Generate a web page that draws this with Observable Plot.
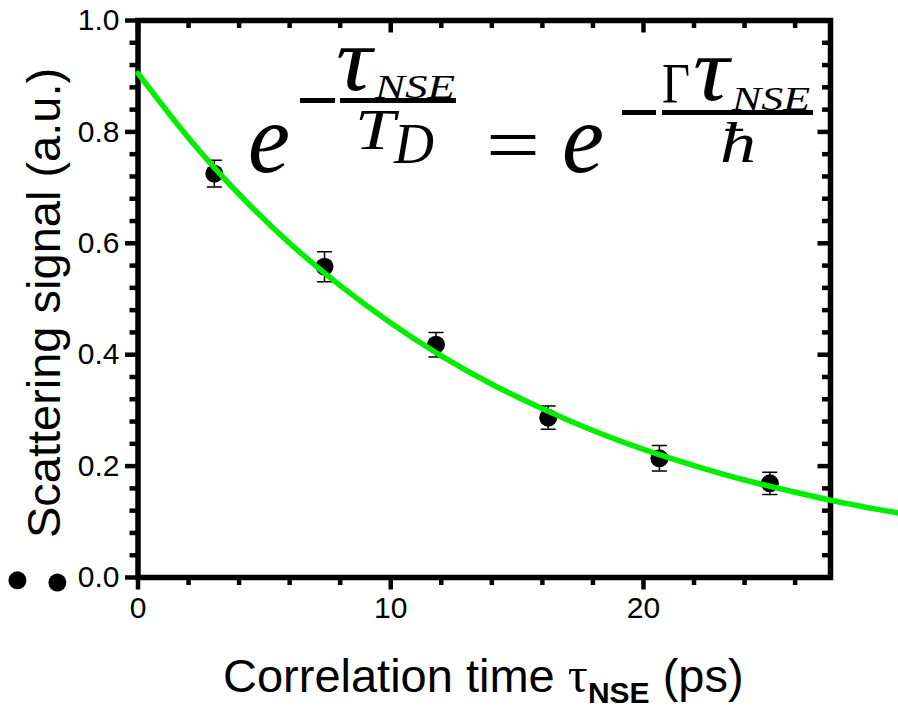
<!DOCTYPE html>
<html><head><meta charset="utf-8">
<script src="https://cdn.jsdelivr.net/npm/d3@7"></script>
<script src="https://cdn.jsdelivr.net/npm/@observablehq/plot@0.6"></script>
<style>body{margin:0;background:#fff}</style>
</head><body><div id="chart"></div>
<script>
// ---- data ----
const tauNSE    = [3.02, 7.38, 11.79, 16.23, 20.63, 25.0];
const signal    = [0.725, 0.558, 0.418, 0.287, 0.214, 0.169];
const signalErr = [0.024, 0.027, 0.022, 0.021, 0.023, 0.020];
const fitTau    = [0, 2, 4, 6, 8, 10, 12, 14, 16, 18, 20, 22, 24, 26, 28, 30.2];
const fitSignal = [0.905, 0.789, 0.688, 0.600, 0.524, 0.457, 0.398, 0.347, 0.303, 0.264, 0.230, 0.201, 0.175, 0.153, 0.133, 0.115];
const strayTau    = [-4.77, -3.19];
const straySignal = [-0.005, -0.009];
const xMajorTicks = [0, 10, 20];
const xMinorTicks = [2, 4, 6, 8, 12, 14, 16, 18, 22, 24, 26];
const yMajorTicks = [0, 0.2, 0.4, 0.6, 0.8, 1.0];
const yMinorTicks = [0.04, 0.08, 0.12, 0.16, 0.24, 0.28, 0.32, 0.36, 0.44, 0.48, 0.52, 0.56, 0.64, 0.68, 0.72, 0.76, 0.84, 0.88, 0.92, 0.96];
const yTitle = "Scattering signal (a.u.)";
const xTitleParts = ["Correlation time ", "τ", "NSE", " (ps)"];

// ---- build tables ----
const points = tauNSE.map((t, i) => ({tau: t, s: signal[i], lo: signal[i] - signalErr[i], hi: signal[i] + signalErr[i]}));
const fit = fitTau.map((t, i) => ({tau: t, s: fitSignal[i]}));
const stray = strayTau.map((t, i) => ({tau: t, s: straySignal[i]}));

const W = 898, H = 708, mL = 137.5, mR = 68, mT = 20, mB = 131;
const innerW = W - mL - mR, innerH = H - mT - mB;
const capShape = {draw(ctx, l) { ctx.moveTo(-l / 2, 0); ctx.lineTo(l / 2, 0); }};
const tickW = 4.5, majLen = 12.5, minLen = 8, labelSize = 30;

const plot = Plot.plot({
  width: W, height: H,
  marginLeft: mL, marginRight: mR, marginTop: mT, marginBottom: mB,
  x: {domain: [0, 27.4]},
  y: {domain: [0, 1]},
  style: {fontFamily: "'Liberation Sans', Arial, sans-serif", fontSize: "30px", color: "#000", background: "#fff", overflow: "visible"},
  marks: [
    // bottom axis (outward)
    Plot.axisX(xMinorTicks, {tickSize: minLen, strokeWidth: tickW, text: null, label: null}),
    Plot.axisX(xMajorTicks, {tickSize: majLen, strokeWidth: tickW, tickPadding: 7, fontSize: labelSize, tickFormat: d => String(d), label: null}),
    // left axis (outward)
    Plot.axisY(yMinorTicks, {tickSize: minLen, strokeWidth: tickW, text: null, label: null}),
    Plot.axisY(yMajorTicks, {tickSize: majLen, strokeWidth: tickW, tickPadding: 6, fontSize: labelSize, tickFormat: d3.format(".1f"), label: null}),
    // top axis (inward)
    Plot.ruleX(xMinorTicks, {x: d => d, insetBottom: innerH - minLen, strokeWidth: tickW}),
    Plot.ruleX(xMajorTicks, {x: d => d, insetBottom: innerH - majLen, strokeWidth: tickW}),
    // right axis (inward)
    Plot.ruleY(yMinorTicks, {y: d => d, insetLeft: innerW - minLen, strokeWidth: tickW}),
    Plot.ruleY(yMajorTicks, {y: d => d, insetLeft: innerW - majLen, strokeWidth: tickW}),
    Plot.frame({stroke: "#000", strokeWidth: 5.5}),
    // error bars
    Plot.ruleX(points, {x: "tau", y1: "lo", y2: "hi", stroke: "#000", strokeWidth: 1.5}),
    Plot.vector(points, {x: "tau", y: "hi", length: 14, shape: capShape, anchor: "start", stroke: "#000", strokeWidth: 1.5}),
    Plot.vector(points, {x: "tau", y: "lo", length: 14, shape: capShape, anchor: "start", stroke: "#000", strokeWidth: 1.5}),
    Plot.dot(points, {x: "tau", y: "s", r: 9, fill: "#000"}),
    Plot.dot(stray, {x: "tau", y: "s", r: 9, fill: "#000"}),
    Plot.line(fit, {x: "tau", y: "s", stroke: "#00ee00", strokeWidth: 5.5, curve: "natural"})
  ]
});
document.getElementById("chart").appendChild(plot);

const svg = d3.select(plot);
svg.selectAll('g[aria-label$="tick label"]').attr("font-size", labelSize).selectAll("text").attr("font-size", labelSize);

// y title
svg.append("text")
  .attr("transform", `translate(60,${mT + 283}) rotate(-90)`)
  .attr("text-anchor", "middle")
  .attr("font-family", "'Liberation Sans', Arial, sans-serif")
  .attr("font-size", 47)
  .attr("fill", "#000")
  .text(yTitle);
// x title
const xt = svg.append("text")
  .attr("x", 223).attr("y", 692)
  .attr("text-anchor", "start")
  .attr("font-family", "'Liberation Sans', Arial, sans-serif")
  .attr("font-size", 47).attr("fill", "#000");
xt.append("tspan").text(xTitleParts[0]);
xt.append("tspan").attr("font-family", "'Liberation Serif', serif").attr("font-size", 50).text(xTitleParts[1]);
xt.append("tspan").attr("font-size", 30).attr("font-weight", "bold").attr("dy", 11).text(xTitleParts[2]);
xt.append("tspan").attr("dy", -11).text(xTitleParts[3]);

// formula annotation
const f = svg.append("g").attr("fill", "#000").attr("text-anchor", "start").attr("font-family", "'Liberation Serif', serif");
function t(str, x, y, size, len, italic = true) {
  f.append("text").attr("x", x).attr("y", y).attr("font-size", size)
    .attr("text-anchor", "start")
    .attr("font-style", italic ? "italic" : "normal")
    .attr("textLength", len).attr("lengthAdjust", "spacingAndGlyphs").text(str);
}
function bar(x1, x2, y) {
  f.append("line").attr("x1", x1).attr("x2", x2).attr("y1", y).attr("y2", y).attr("stroke", "#000").attr("stroke-width", 5);
}
t("e", 248, 172, 100, 42);
bar(300, 335, 100.5);
bar(340, 456, 100.5);
t("τ", 336, 90, 92, 36);
t("NSE", 375, 98, 34, 80);
t("T", 355, 149, 56, 40);
t("D", 394, 163, 56, 40);
t("=", 486, 172, 80, 54, false);
t("e", 562, 172, 100, 42);
bar(622, 656, 112.5);
bar(662, 813, 112.5);
t("Γ", 662, 103, 58, 28, false);
t("τ", 693, 100, 92, 36);
t("NSE", 732, 110, 34, 78);
t("ħ", 720, 162, 56, 36);
</script></body></html>
